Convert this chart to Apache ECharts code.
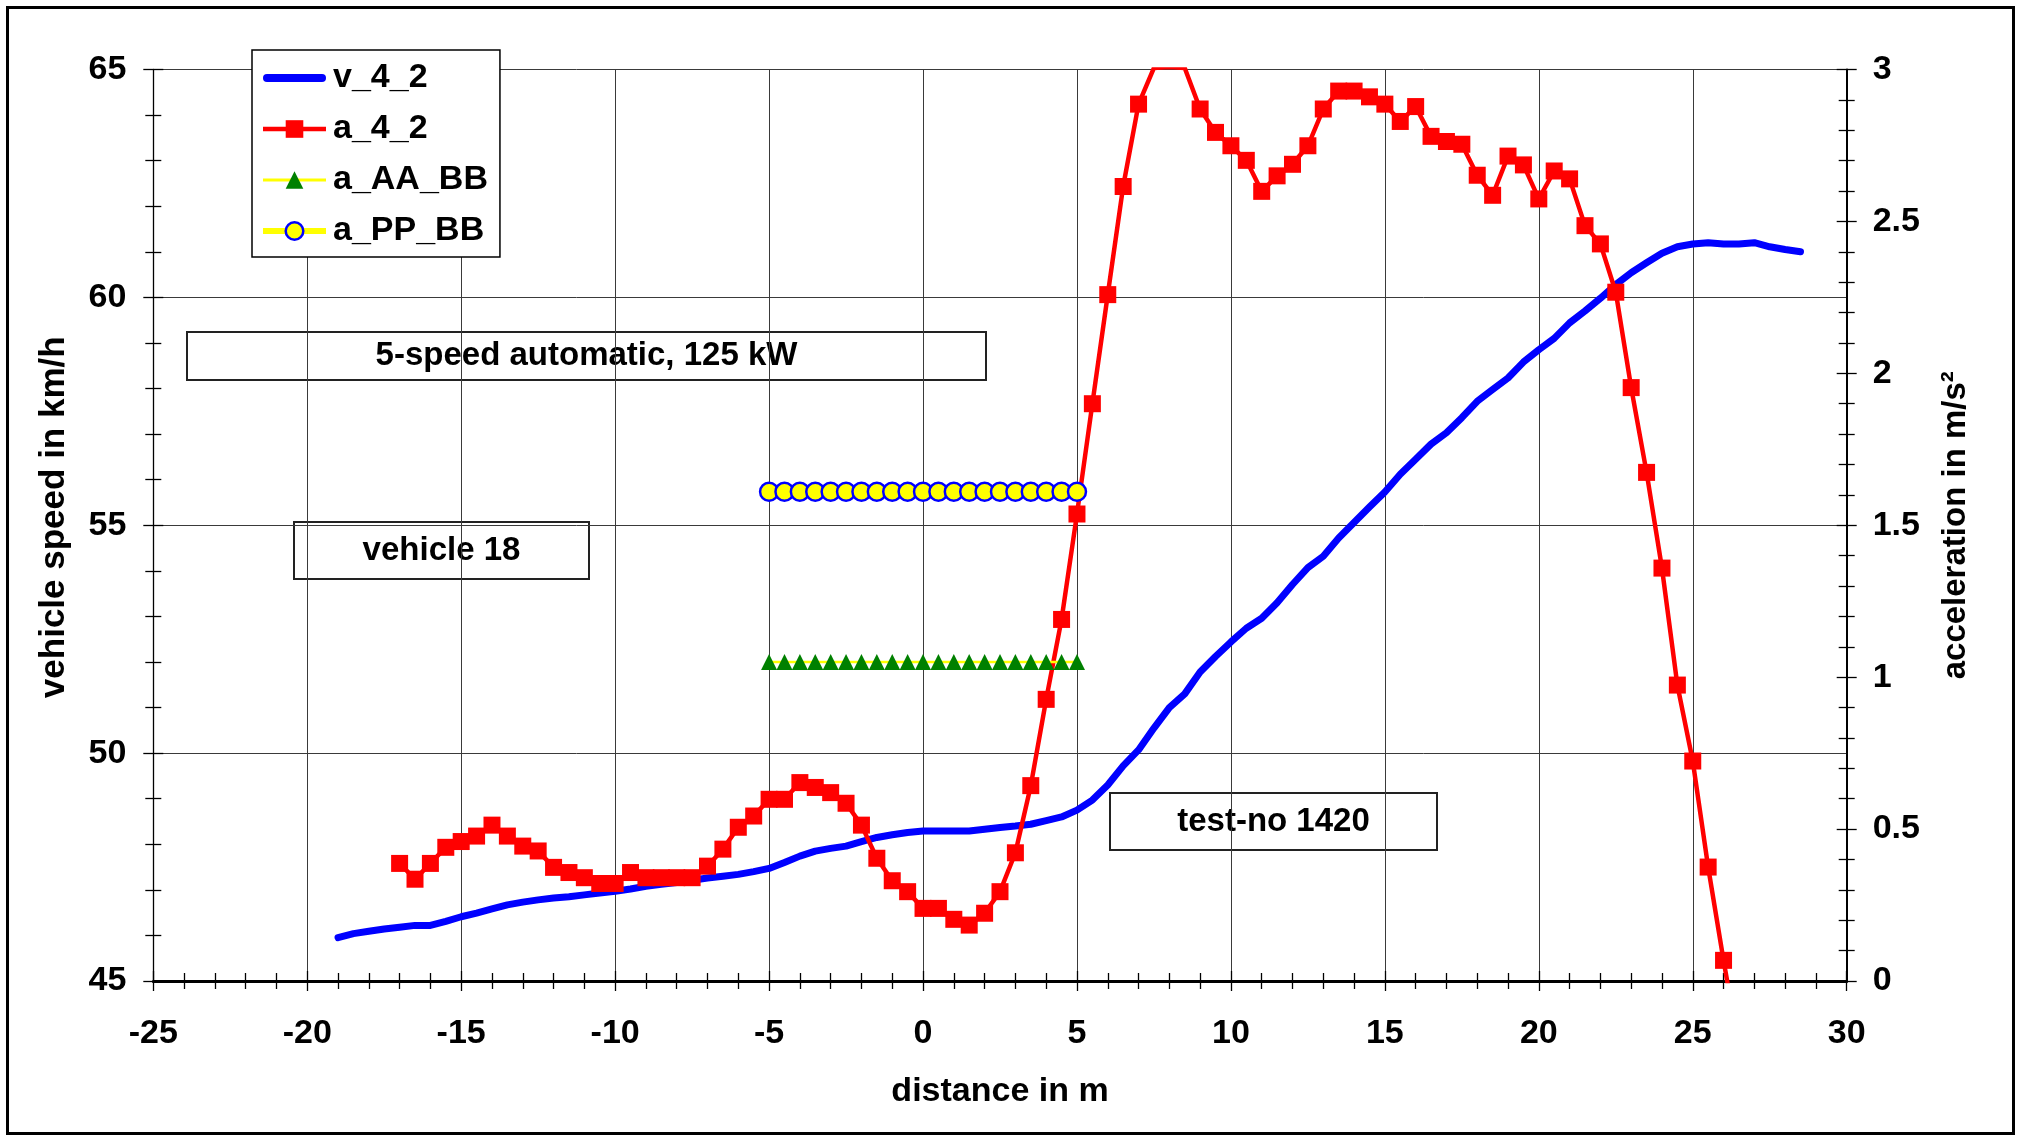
<!DOCTYPE html>
<html><head><meta charset="utf-8">
<script src="https://cdn.jsdelivr.net/npm/echarts@6/dist/echarts.min.js"></script>
<style>html,body{margin:0;padding:0;background:#fff}#c{width:2021px;height:1138px}</style>
</head><body><div id="c"></div>
<script>
// ---- data ----
const speedDist = [-19,-18.5,-18,-17.5,-17,-16.5,-16,-15.5,-15,-14.5,-14,-13.5,-13,-12.5,-12,-11.5,-11,-10.5,-10,-9.5,-9,-8.5,-8,-7.5,-7,-6.5,-6,-5.5,-5,-4.5,-4,-3.5,-3,-2.5,-2,-1.5,-1,-0.5,0,0.5,1,1.5,2,2.5,3,3.5,4,4.5,5,5.5,6,6.5,7,7.5,8,8.5,9,9.5,10,10.5,11,11.5,12,12.5,13,13.5,14,14.5,15,15.5,16,16.5,17,17.5,18,18.5,19,19.5,20,20.5,21,21.5,22,22.5,23,23.5,24,24.5,25,25.5,26,26.5,27,27.5,28,28.5];
const speedV = [45.95,46.04,46.09,46.14,46.18,46.22,46.22,46.31,46.41,46.49,
46.58,46.67,46.73,46.78,46.82,46.85,46.89,46.93,46.97,47.02,
47.08,47.12,47.16,47.21,47.26,47.30,47.34,47.40,47.47,47.60,
47.74,47.85,47.91,47.96,48.06,48.15,48.21,48.26,48.29,48.29,
48.29,48.29,48.33,48.37,48.40,48.44,48.52,48.60,48.75,48.97,
49.30,49.72,50.07,50.55,51.00,51.30,51.78,52.12,52.44,52.74,
52.96,53.30,53.70,54.07,54.32,54.72,55.06,55.40,55.73,56.12,
56.45,56.78,57.03,57.36,57.72,57.98,58.23,58.58,58.85,59.10,
59.44,59.70,59.98,60.28,60.54,60.76,60.97,61.11,61.17,61.20,
61.17,61.17,61.20,61.11,61.05,61.00];
const accDist = [-17,-16.5,-16,-15.5,-15,-14.5,-14,-13.5,-13,-12.5,-12,-11.5,-11,-10.5,-10,-9.5,-9,-8.5,-8,-7.5,-7,-6.5,-6,-5.5,-5,-4.5,-4,-3.5,-3,-2.5,-2,-1.5,-1,-0.5,0,0.5,1,1.5,2,2.5,3,3.5,4,4.5,5,5.5,6,6.5,7,7.5,8,8.5,9,9.5,10,10.5,11,11.5,12,12.5,13,13.5,14,14.5,15,15.5,16,16.5,17,17.5,18,18.5,19,19.5,20,20.5,21,21.5,22,22.5,23,23.5,24,24.5,25,25.5,26,26.5];
const accA = [0.387,0.335,0.387,0.440,0.459,0.477,0.513,0.477,0.444,0.428,
0.374,0.357,0.340,0.321,0.321,0.357,0.340,0.340,0.340,0.340,
0.378,0.434,0.506,0.543,0.598,0.598,0.653,0.637,0.620,0.585,
0.513,0.404,0.330,0.294,0.239,0.239,0.203,0.184,0.223,0.294,
0.422,0.643,0.927,1.190,1.537,1.900,2.259,2.615,2.886,3.005,
3.008,3.005,2.870,2.793,2.749,2.701,2.599,2.650,2.688,2.749,
2.870,2.929,2.929,2.910,2.886,2.829,2.878,2.780,2.763,2.754,
2.652,2.586,2.715,2.686,2.574,2.666,2.640,2.486,2.426,2.267,
1.953,1.674,1.359,0.974,0.724,0.375,0.068,-0.220];
const refDist = [-5,-4.5,-4,-3.5,-3,-2.5,-2,-1.5,-1,-0.5,0,0.5,1,1.5,2,2.5,3,3.5,4,4.5,5];
const aAABB = [1.05,1.05,1.05,1.05,1.05,1.05,1.05,1.05,1.05,1.05,1.05,1.05,1.05,1.05,1.05,1.05,1.05,1.05,1.05,1.05,1.05];
const aPPBB = [1.61,1.61,1.61,1.61,1.61,1.61,1.61,1.61,1.61,1.61,1.61,1.61,1.61,1.61,1.61,1.61,1.61,1.61,1.61,1.61,1.61];
const seriesNames = ['v_4_2','a_4_2','a_AA_BB','a_PP_BB'];
const xRange = {min:-25, max:30, interval:5};
const speedRange = {min:45, max:65, interval:5};
const accRange = {min:0, max:3, interval:0.5};
const axisTitles = {x:'distance in m', yLeft:'vehicle speed in km/h', yRight:'acceleration in m/s²'};
const notes = ['5-speed automatic, 125 kW','vehicle 18','test-no 1420'];

// ---- chart ----
const FONT = 'Liberation Sans, Arial, Helvetica, sans-serif';
const lbl = {fontSize:34, fontWeight:'bold', color:'#000', fontFamily:FONT};
const pair = (xs, ys) => xs.map((x,i)=>[x, ys[i]]);
const chart = echarts.init(document.getElementById('c'), null, {renderer:'canvas'});

function mainAxisCommon(extra){
  return Object.assign({
    type:'value',
    axisTick:{show:true, inside:false, length:10, lineStyle:{color:'#000', width:1.3}},
    minorTick:{show:true, splitNumber:5, length:8, lineStyle:{color:'#000', width:1.3}},
    minorSplitLine:{show:false}
  }, extra);
}
function innerAxis(extra){
  return Object.assign({
    type:'value',
    axisLine:{show:false, onZero:false},
    axisTick:{show:true, inside:true, length:10, lineStyle:{color:'#000', width:1.3}},
    minorTick:{show:true, splitNumber:5, length:8, lineStyle:{color:'#000', width:1.3}},
    axisLabel:{show:false},
    splitLine:{show:false},
    minorSplitLine:{show:false}
  }, extra);
}

const option = {
  animation:false,
  backgroundColor:'#fff',
  grid:{left:153.3, right:174.3, top:69.5, bottom:157, containLabel:false, outerBoundsMode:'none'},
  xAxis:[
    mainAxisCommon(Object.assign({}, xRange, {
      position:'bottom',
      axisLine:{show:true, onZero:false, lineStyle:{color:'#000', width:3}},
      axisLabel:Object.assign({margin:36}, lbl),
      splitLine:{show:true, lineStyle:{color:'#3a3a3a', width:1}},
      name:axisTitles.x, nameLocation:'middle', nameGap:94, nameMoveOverlap:false,
      nameTextStyle:{fontSize:34, fontWeight:'bold', color:'#000', fontFamily:FONT}
    })),
    innerAxis(Object.assign({}, xRange, {position:'bottom'}))
  ],
  yAxis:[
    mainAxisCommon(Object.assign({}, speedRange, {
      position:'left',
      axisLine:{show:true, onZero:false, lineStyle:{color:'#000', width:1.3}},
      axisLabel:Object.assign({margin:27}, lbl),
      splitLine:{show:true, lineStyle:{color:'#3a3a3a', width:1}},
      name:axisTitles.yLeft, nameLocation:'middle', nameRotate:90, nameGap:81, nameMoveOverlap:false,
      nameTextStyle:{fontSize:35, fontWeight:'bold', color:'#000', fontFamily:FONT, padding:[0,0,0,16]}
    })),
    mainAxisCommon(Object.assign({}, accRange, {
      position:'right',
      axisLine:{show:true, onZero:false, lineStyle:{color:'#000', width:2}},
      axisLabel:Object.assign({margin:26}, lbl),
      splitLine:{show:false},
      name:axisTitles.yRight, nameLocation:'middle', nameRotate:90, nameGap:93, nameMoveOverlap:false,
      nameTextStyle:{fontSize:33, fontWeight:'bold', color:'#000', fontFamily:FONT}
    })),
    innerAxis(Object.assign({}, speedRange, {position:'left'})),
    innerAxis(Object.assign({}, accRange, {position:'right'}))
  ],
  legend:{
    orient:'vertical', left:252, top:50,
    backgroundColor:'#fff', borderColor:'#000', borderWidth:1.5, borderRadius:0,
    padding:[11,12,9,8], itemGap:17, itemWidth:63, itemHeight:22,
    textStyle:{fontSize:34, fontWeight:'bold', color:'#000', fontFamily:FONT, padding:[0,0,0,2]},
    selectedMode:false,
    data:[
      {name:seriesNames[0], icon:'path://M4,0 L59,0 A4,4 0 0 1 59,8 L4,8 A4,4 0 0 1 4,0 Z'},
      {name:seriesNames[1], lineStyle:{width:4.5}},
      {name:seriesNames[2], lineStyle:{width:3}},
      {name:seriesNames[3], lineStyle:{width:6}, itemStyle:{borderColor:'#0000ff', borderWidth:2.5}}
    ]
  },
  series:[
    {name:seriesNames[0], type:'line', xAxisIndex:0, yAxisIndex:0, data:pair(speedDist, speedV),
     symbol:'none', smooth:false, lineStyle:{color:'#0000ff', width:7, cap:'round', join:'round'},
     itemStyle:{color:'#0000ff'}},
    {name:seriesNames[1], type:'line', xAxisIndex:0, yAxisIndex:1, data:pair(accDist, accA),
     symbol:'rect', symbolSize:17, lineStyle:{color:'#ff0000', width:4.5, join:'round'},
     itemStyle:{color:'#ff0000'}},
    {name:seriesNames[2], type:'line', xAxisIndex:0, yAxisIndex:1, data:pair(refDist, aAABB),
     symbol:'triangle', symbolSize:16, lineStyle:{color:'#ffff00', width:2.5},
     itemStyle:{color:'#008000'}},
    {name:seriesNames[3], type:'line', xAxisIndex:0, yAxisIndex:1, data:pair(refDist, aPPBB),
     symbol:'circle', symbolSize:18, lineStyle:{color:'#ffff00', width:3},
     itemStyle:{color:'#ffff00', borderColor:'#0000ff', borderWidth:2.5}}
  ],
  graphic:[
    {type:'group', z:1, children:[
      {type:'rect', shape:{x:187, y:332, width:799, height:48}, style:{fill:'#fff', stroke:'#222', lineWidth:2}},
      {type:'text', x:586.5, y:356, style:{text:notes[0], fontSize:33, fontWeight:'bold', fontFamily:FONT, fill:'#000', align:'center', verticalAlign:'middle'}}
    ]},
    {type:'group', z:1, children:[
      {type:'rect', shape:{x:294, y:522, width:295, height:57}, style:{fill:'#fff', stroke:'#222', lineWidth:2}},
      {type:'text', x:441.5, y:550.5, style:{text:notes[1], fontSize:33, fontWeight:'bold', fontFamily:FONT, fill:'#000', align:'center', verticalAlign:'middle'}}
    ]},
    {type:'group', z:1, children:[
      {type:'rect', shape:{x:1110, y:793, width:327, height:57}, style:{fill:'#fff', stroke:'#222', lineWidth:2}},
      {type:'text', x:1273.5, y:821.5, style:{text:notes[2], fontSize:33, fontWeight:'bold', fontFamily:FONT, fill:'#000', align:'center', verticalAlign:'middle'}}
    ]},
    {type:'rect', z:50, silent:true, shape:{x:7.5, y:7.5, width:2006, height:1126}, style:{fill:'none', stroke:'#000', lineWidth:3}}
  ]
};
chart.setOption(option);
</script>
</body></html>
